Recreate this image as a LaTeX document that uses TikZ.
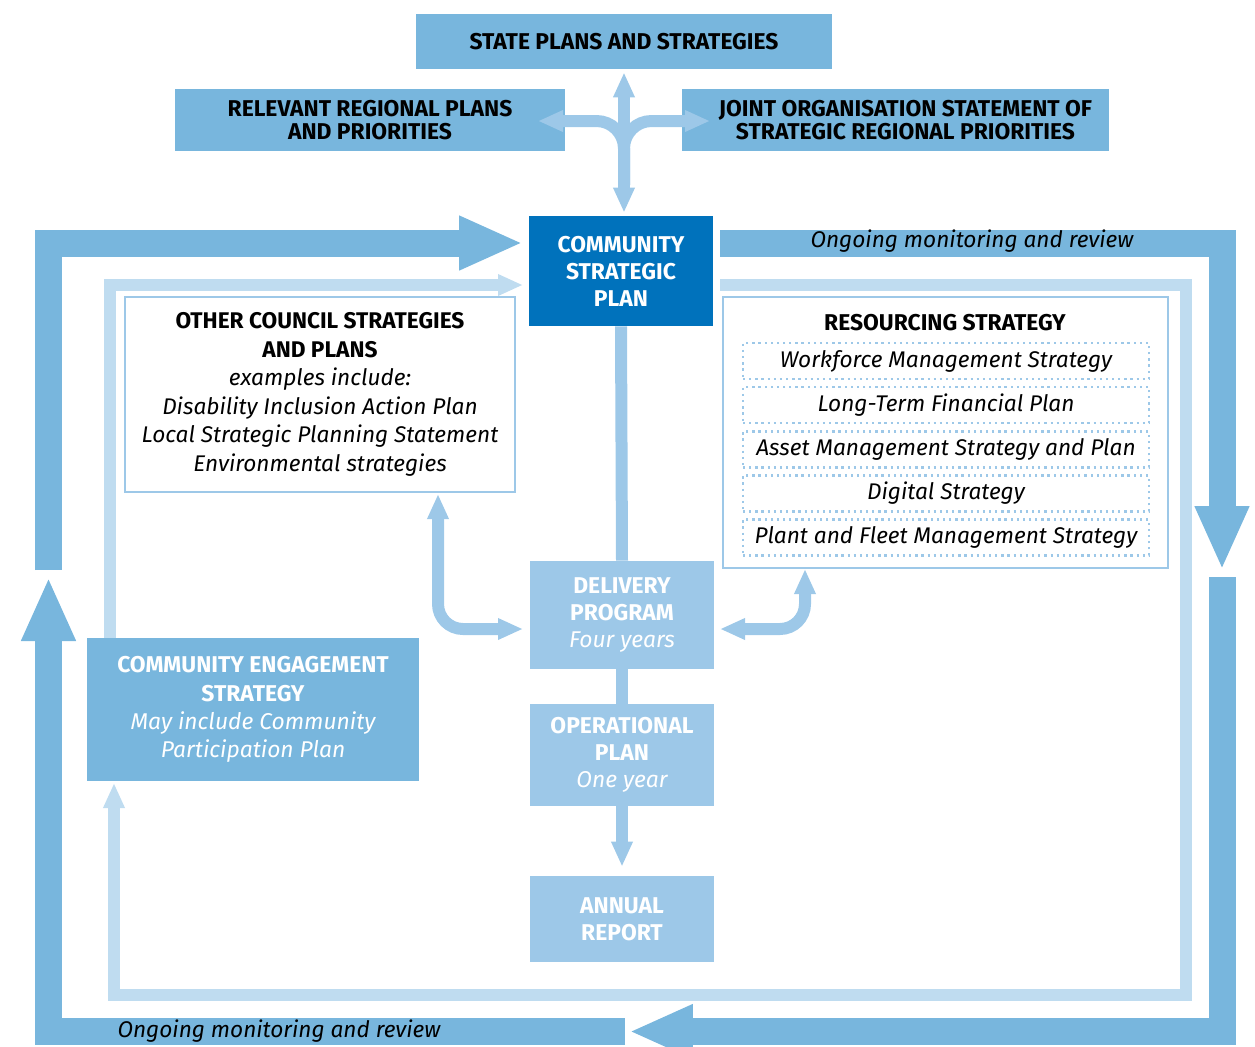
\documentclass[tikz,border=0pt]{standalone}
\usepackage{fontspec}
\setmainfont{Fira Sans}
\usetikzlibrary{arrows.meta}
\definecolor{midblue}{RGB}{120,182,221}
\definecolor{darkblue}{RGB}{0,114,188}
\definecolor{paleblue}{RGB}{157,200,232}
\definecolor{lightblue}{RGB}{191,220,240}
\tikzset{
  head/.style={font=\bfseries\fontsize{13}{15.4}\selectfont},
  topbox/.style={font=\bfseries\fontsize{13}{13}\selectfont, fill=midblue, align=center, inner sep=0pt},
  planbox/.style={head, fill=paleblue, text=white, align=center, inner sep=0pt, minimum width=3.68cm},
  listbox/.style={draw=paleblue, line width=0.05cm, inner sep=0pt, align=center},
  rowbox/.style={draw=paleblue, line width=1.3pt, dash pattern=on 1.3pt off 2.2pt,
    minimum width=8.12cm, minimum height=0.72cm, inner sep=0pt, font=\itshape\fontsize{12.9}{15}\selectfont},
  loopflow/.style={draw=midblue, line width=0.54cm, -{Triangle[length=1.28cm,width=1.0cm]}},
  backflow/.style={draw=lightblue, line width=0.24cm, -{Triangle[length=0.5cm,width=0.4cm]}},
  flow/.style={draw=paleblue, line width=0.24cm, -{Triangle[length=0.5cm,width=0.4cm]}},
  twoway/.style={flow, {Triangle[length=0.5cm,width=0.4cm]}-{Triangle[length=0.5cm,width=0.4cm]}, rounded corners=0.5cm},
  note/.style={font=\itshape\fontsize{12.9}{15}\selectfont}
}
\begin{document}
\begin{tikzpicture}[x=0.02cm,y=-0.02cm]
\useasboundingbox (0,0) rectangle (1255,1046);
% loop corners
\coordinate (nw) at (48.5,243); \coordinate (ne) at (1222,243);
\coordinate (sw) at (48.5,1031.5); \coordinate (se) at (1222,1031.5);
\coordinate (inw) at (110,285); \coordinate (ine) at (1186,285);
\coordinate (isw) at (114,995); \coordinate (ise) at (1186,995);
% light loop
\draw[backflow] (110,638) -- (inw) -- (523,285);
\draw[backflow] (720,285) -- (ine) -- (ise) -- (isw) -- (114,783);
% outer loop
\draw[loopflow] (48.5,570) -- (nw) -- (523,243);
\draw[loopflow] (720,243) -- (ne) -- (1222,570);
\draw[loopflow] (1222,577) -- (se) -- (629,1031.5);
\draw[loopflow] (625,1031.5) -- (sw) -- (48.5,577);
\node[note] (monTop) at (972,241) {Ongoing monitoring and review};
\node[note] (monBot) at (279,1031) {Ongoing monitoring and review};

\node[topbox, minimum width=8.32cm, minimum height=1.1cm] (state) at (624,41.5) {STATE PLANS AND STRATEGIES};
\node[topbox, minimum width=7.8cm, minimum height=1.24cm] (regional) at (370,120) {RELEVANT REGIONAL PLANS\\AND PRIORITIES};
\node[topbox, minimum width=8.54cm, minimum height=1.24cm] (joint) at (895.5,120) {\hspace*{0.4cm}JOINT ORGANISATION STATEMENT OF\\\hspace*{0.4cm}STRATEGIC REGIONAL PRIORITIES};
\node[head, fill=darkblue, text=white, align=center, minimum width=3.68cm, minimum height=2.2cm] (csp) at (621,271) {COMMUNITY\\STRATEGIC\\PLAN};

% up and across
\draw[twoway, rounded corners=0pt] ([yshift=-0.06cm]state.south) -- ([yshift=0.06cm]state.south |- csp.north);
\draw[flow, rounded corners=0.55cm] (624,185) |- (538,121);
\draw[flow, rounded corners=0.55cm] (624,185) |- (710,121);

\node[listbox, font=\fontsize{12.9}{16.2}\selectfont, minimum width=7.8cm, minimum height=3.9cm] (other) at (320,394.5)
  {\bfseries OTHER COUNCIL STRATEGIES\\\bfseries AND PLANS\\\itshape examples include:\\\itshape Disability Inclusion Action Plan\\\itshape Local Strategic Planning Statement\\\itshape Environmental strategies};
\node[listbox, minimum width=8.9cm, minimum height=5.42cm] (res) at (945.5,432.5) {};
\node[head] (resTitle) at (945,323) {RESOURCING STRATEGY};
\foreach \y/\t [count=\i] in {361/Workforce Management Strategy, 405/Long-Term Financial Plan,
  449.5/Asset Management Strategy and Plan, 493.5/Digital Strategy, 537.5/Plant and Fleet Management Strategy}
  \node[rowbox] (row\i) at (946,\y) {\t};

\node[planbox, minimum height=2.16cm] (dp) at (622,615) {DELIVERY\\PROGRAM\\\normalfont\itshape Four years};
\node[planbox, minimum height=2.04cm] (op) at (622,755) {OPERATIONAL\\PLAN\\\normalfont\itshape One year};
\node[planbox, minimum height=1.72cm] (ar) at (622,919) {ANNUAL\\REPORT};
\node[topbox, font=\bfseries\fontsize{13}{16}\selectfont, text=white, minimum width=6.64cm, minimum height=2.86cm] (ces) at (253,709.5)
  {COMMUNITY ENGAGEMENT\\STRATEGY\\\normalfont\itshape May include Community\\\normalfont\itshape Participation Plan};

\draw[flow, -] (csp.south) -- (dp.north);
\draw[flow, -] (dp.south) -- (op.north);
\draw[flow, shorten >=0.18cm] (op.south) -- (ar.north);
\draw[twoway] (438,494) |- (523,629);
\draw[twoway] (805,569) |- (720,629);
\end{tikzpicture}
\end{document}
